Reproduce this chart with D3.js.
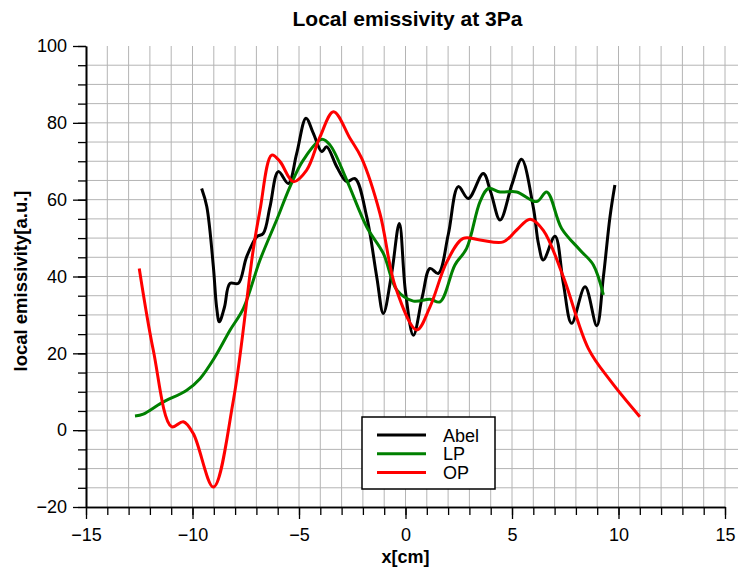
<!DOCTYPE html>
<html>
<head>
<meta charset="utf-8">
<script src="https://cdn.jsdelivr.net/npm/d3@7"></script>
<style>
  body { margin: 0; background: #fff; }
  svg { display: block; font-family: "Liberation Sans", Arial, sans-serif; }
</style>
</head>
<body>
<script>
// values: [x in cm, local emissivity]
const abel = [
    [-9.57, 62.9], [-9.33, 58.2], [-9.02, 42.5], [-8.87, 32.1], [-8.74, 28.2], [-8.5, 32], [-8.24, 38.2],
    [-7.85, 38.2], [-7.46, 45.1], [-6.99, 50.3], [-6.68, 51.2], [-6.36, 58.2], [-5.97, 67.3], [-5.5, 64.2],
    [-5.11, 72], [-4.67, 81.2], [-4.33, 77.3], [-3.93, 72.5], [-3.7, 73.8], [-3.23, 68.6], [-2.76, 64.7],
    [-2.37, 65.5], [-1.82, 55.5], [-1.35, 39.9], [-1.04, 30.4], [-0.65, 40.8], [-0.29, 53.8], [0.0, 36],
    [0.37, 24.7], [0.8, 35], [1.15, 42.1], [1.54, 40.8], [2.01, 51], [2.48, 63.4], [2.95, 60.3],
    [3.65, 66.8], [4.0, 62], [4.44, 54.7], [5.0, 64], [5.45, 70.5], [6.0, 58], [6.24, 48.6], [6.47, 44.3],
    [7.02, 50.5], [7.41, 38.2], [7.8, 27.8], [8.43, 37.3], [8.98, 27.2], [9.29, 39.9], [9.6, 55.5], [9.83, 63.8]
];
const lp = [
    [-12.7, 3.7], [-12.31, 4.2], [-11.45, 7.1], [-10.27, 10.4], [-9.65, 13.4], [-8.94, 19.1], [-8.24, 26],
    [-7.61, 31.7], [-6.83, 44.3], [-6.05, 54.7], [-5.42, 63.4], [-4.8, 70.3], [-3.93, 75.7], [-3.54, 74.2],
    [-2.76, 65.1], [-1.82, 52.9], [-1.04, 46], [-0.41, 36.5], [0.37, 33.6], [1.15, 34.1], [1.62, 33.4],
    [2.32, 43], [2.87, 47.3], [3.5, 59.5], [3.89, 62.9], [4.44, 62], [5.22, 62], [6.16, 59.5], [6.63, 62],
    [7.33, 52.5], [8.19, 46.9], [8.82, 43], [9.29, 35.2]
];
const op = [
    [-12.5, 42.1], [-11.84, 20.8], [-10.98, 0.9], [-10.43, 2.2], [-9.96, -0.9], [-9.02, -14.8], [-8.08, 7.8],
    [-7.15, 46.9], [-6.83, 57.3], [-6.28, 71.6], [-5.89, 69.9], [-5.27, 64.7], [-4.64, 67.7], [-4.01, 76.4],
    [-3.38, 82.9], [-2.6, 75.9], [-2.06, 70.8], [-1.2, 56.4], [-0.47, 37.2], [0.53, 26.1], [1.15, 32.1],
    [1.94, 43.8], [2.71, 49.9], [3.5, 49.5], [4.59, 49], [5.22, 52.1], [5.85, 54.9], [6.47, 52],
    [7.41, 39.9], [8.58, 21.3], [9.6, 13], [11.0, 3.5]
];
const seriesNames = ["Abel", "LP", "OP"];
const seriesColors = ["#000000", "#008000", "#ff0000"];
const xTicks = [-15, -10, -5, 0, 5, 10, 15];
const yTicks = [-20, 0, 20, 40, 60, 80, 100];

const W = 738, H = 574;
const margin = {top: 46, right: 13, bottom: 67, left: 86},
    width = W - margin.left - margin.right,
    height = H - margin.top - margin.bottom;

const x = d3.scaleLinear().domain([-15, 15]).range([margin.left, margin.left + width]);
const y = d3.scaleLinear().domain([-20, 100]).range([margin.top + height, margin.top]);

const svg = d3.select("body").append("svg")
    .attr("width", W)
    .attr("height", H);

// grid
const grid = svg.append("g").attr("stroke", "#b4b4b4").attr("stroke-width", 1);
grid.selectAll("line.v")
    .data(d3.range(-14, 16, 1))
    .enter().append("line")
    .attr("x1", d => x(d)).attr("x2", d => x(d))
    .attr("y1", y(100)).attr("y2", y(-20));
grid.selectAll("line.h")
    .data(d3.range(-15, 100, 5))
    .enter().append("line")
    .attr("x1", x(-15)).attr("x2", W)
    .attr("y1", d => y(d)).attr("y2", d => y(d));

// axes
function styleAxis(g) {
    g.selectAll(".domain").attr("stroke", "#000").attr("stroke-width", 1.6);
    g.selectAll(".tick line").attr("stroke", "#000").attr("stroke-width", 1.3);
    g.selectAll("text").attr("font-size", 18).attr("fill", "#000")
        .attr("font-family", "'Liberation Sans', Arial, sans-serif");
}

svg.append("g")
    .attr("transform", "translate(0," + y(-20) + ")")
    .call(d3.axisBottom(x).tickValues(d3.range(-15, 16, 1)).tickSize(8).tickFormat("").tickSizeOuter(0))
    .call(styleAxis);
svg.append("g")
    .attr("transform", "translate(0," + y(-20) + ")")
    .call(d3.axisBottom(x).tickValues(xTicks).tickSize(12).tickPadding(9).tickSizeOuter(0))
    .call(styleAxis);

svg.append("g")
    .attr("transform", "translate(" + x(-15) + ",0)")
    .call(d3.axisLeft(y).tickValues(d3.range(-20, 101, 5)).tickSize(8).tickFormat("").tickSizeOuter(0))
    .call(styleAxis);
svg.append("g")
    .attr("transform", "translate(" + x(-15) + ",0)")
    .call(d3.axisLeft(y).tickValues(yTicks).tickSize(13).tickPadding(6).tickSizeOuter(0))
    .call(styleAxis);

// curves
const line = d3.line()
    .x(d => x(d[0]))
    .y(d => y(d[1]))
    .curve(d3.curveCatmullRom.alpha(0.5));

[abel, lp, op].forEach((s, i) => {
    svg.append("path")
        .datum(s)
        .attr("fill", "none")
        .attr("stroke", seriesColors[i])
        .attr("stroke-width", 3)
        .attr("stroke-linejoin", "round")
        .attr("d", line);
});

// titles
svg.append("text")
    .attr("x", x(0) + 2).attr("y", 26)
    .attr("text-anchor", "middle")
    .attr("font-size", 21).attr("font-weight", "bold")
    .text("Local emissivity at 3Pa");
svg.append("text")
    .attr("x", x(0)).attr("y", 563)
    .attr("text-anchor", "middle")
    .attr("font-size", 18).attr("font-weight", "bold")
    .text("x[cm]");
svg.append("text")
    .attr("transform", "translate(27,281) rotate(-90)")
    .attr("text-anchor", "middle")
    .attr("font-size", 18.5).attr("font-weight", "bold")
    .text("local emissivity[a.u.]");

// legend
const legend = svg.append("g").attr("transform", "translate(362,417)");
legend.append("rect")
    .attr("width", 133).attr("height", 72)
    .attr("fill", "#fff").attr("stroke", "#000").attr("stroke-width", 1.5);
seriesNames.forEach((name, i) => {
    const ly = 18 + i * 18.7;
    legend.append("line")
        .attr("x1", 15).attr("x2", 64)
        .attr("y1", ly).attr("y2", ly)
        .attr("stroke", seriesColors[i]).attr("stroke-width", 3);
    legend.append("text")
        .attr("x", 81).attr("y", ly + 6.5)
        .attr("font-size", 18)
        .text(name);
});
</script>
</body>
</html>
